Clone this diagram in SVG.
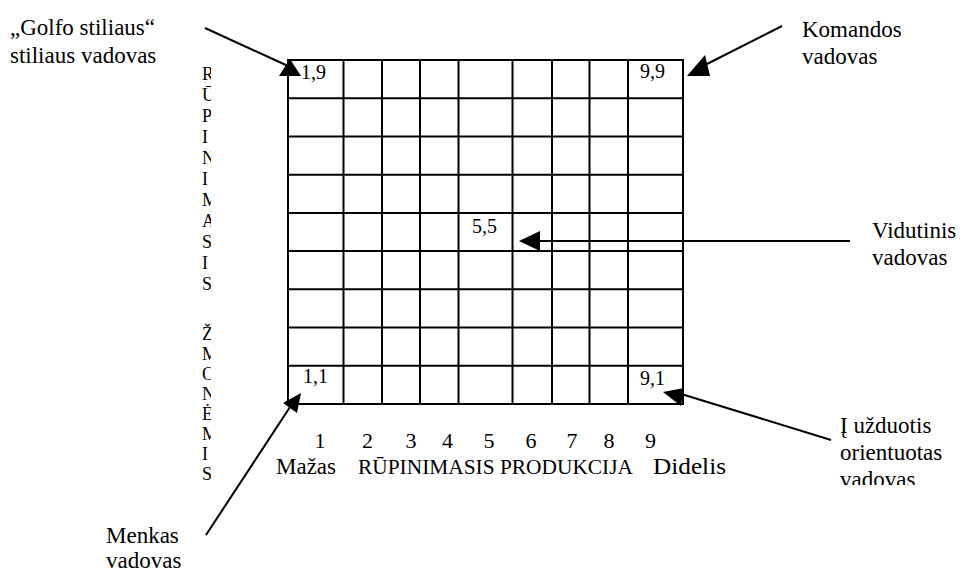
<svg xmlns="http://www.w3.org/2000/svg" width="963" height="572" viewBox="0 0 963 572">
<defs>
<style>
.lbl{font-size:23px}
.cell{font-size:20px}
.ax{font-size:22px}
.vt{font-size:18px}
.g{stroke:#000;stroke-width:2;fill:none}
.c{stroke:#000;stroke-width:2;fill:none}
.h{fill:#000;stroke:none}
</style>
<clipPath id="vclip"><rect x="195" y="55" width="16" height="440"/></clipPath>
<clipPath id="bclip"><rect x="830" y="400" width="133" height="85"/></clipPath>
</defs>
<rect width="963" height="572" fill="#fff"/>
<g font-family="'Liberation Serif', 'DejaVu Serif', serif" fill="#000">

<g id="grid">
<rect class="g" x="288" y="60" width="395" height="344"/>
<path class="g" d="M343.5 60V404M382 60V404M420 60V404M458.5 60V404M512.5 60V404M552 60V404M589.5 60V404M628 60V404"/>
<path class="g" d="M288 98.2H683M288 136.4H683M288 174.7H683M288 212.9H683M288 251.1H683M288 289.3H683M288 327.6H683M288 365.8H683"/>
<text class="cell" x="301" y="79">1,9</text>
<text class="cell" x="640" y="78">9,9</text>
<text class="cell" x="472" y="233">5,5</text>
<text class="cell" x="303" y="383">1,1</text>
<text class="cell" x="640" y="385">9,1</text>
</g>

<g id="y-axis" clip-path="url(#vclip)">
<text class="vt" x="202" y="80">R</text>
<text class="vt" x="202" y="101">Ū</text>
<text class="vt" x="202" y="122">P</text>
<text class="vt" x="202" y="143">I</text>
<text class="vt" x="202" y="164">N</text>
<text class="vt" x="202" y="185">I</text>
<text class="vt" x="202" y="206">M</text>
<text class="vt" x="202" y="227">A</text>
<text class="vt" x="202" y="248">S</text>
<text class="vt" x="202" y="269">I</text>
<text class="vt" x="202" y="290">S</text>
<text class="vt" x="202" y="340">Ž</text>
<text class="vt" x="202" y="360">M</text>
<text class="vt" x="202" y="380">O</text>
<text class="vt" x="202" y="400">N</text>
<text class="vt" x="202" y="420">Ė</text>
<text class="vt" x="202" y="440">M</text>
<text class="vt" x="202" y="460">I</text>
<text class="vt" x="202" y="480">S</text>
</g>

<g id="x-axis">
<g text-anchor="middle">
<text class="ax" x="320" y="448">1</text>
<text class="ax" x="367.5" y="448">2</text>
<text class="ax" x="411" y="448">3</text>
<text class="ax" x="447.5" y="448">4</text>
<text class="ax" x="489" y="448">5</text>
<text class="ax" x="531" y="448">6</text>
<text class="ax" x="572" y="448">7</text>
<text class="ax" x="609" y="448">8</text>
<text class="ax" x="650.5" y="448">9</text>
</g>
<text class="lbl" x="276" y="474" textLength="60" lengthAdjust="spacingAndGlyphs">Mažas</text>
<text class="ax" x="358" y="474" textLength="275" lengthAdjust="spacingAndGlyphs">RŪPINIMASIS PRODUKCIJA</text>
<text class="lbl" x="653" y="474" textLength="73" lengthAdjust="spacingAndGlyphs">Didelis</text>
</g>

<g id="golfo">
<text class="lbl" x="10" y="35">„Golfo stiliaus“</text>
<text class="lbl" x="10" y="63">stiliaus vadovas</text>
</g>
<g id="komandos">
<text class="lbl" x="802" y="37">Komandos</text>
<text class="lbl" x="802" y="64">vadovas</text>
</g>
<g id="vidutinis">
<text class="lbl" x="872" y="238">Vidutinis</text>
<text class="lbl" x="872" y="265">vadovas</text>
</g>
<g id="uzduotis" clip-path="url(#bclip)">
<text class="lbl" x="840" y="433">Į užduotis</text>
<text class="lbl" x="840" y="460">orientuotas</text>
<text class="lbl" x="840" y="487">vadovas</text>
</g>
<g id="menkas">
<text class="lbl" x="106" y="543">Menkas</text>
<text class="lbl" x="106" y="568">vadovas</text>
</g>
</g>

<g id="connectors">
<path class="c" d="M205 28L288 66"/>
<polygon class="h" points="279,76 290,59 301,76"/>
<path class="c" d="M782 26L703 66"/>
<polygon class="h" points="687,76 705,55 710,76"/>
<path class="c" d="M850 241H535"/>
<polygon class="h" points="519,241 540,231 540,251"/>
<path class="c" d="M831 440L678 393"/>
<polygon class="h" points="663,392 684,388 681,406"/>
<path class="c" d="M206 535L292 404"/>
<polygon class="h" points="301,393 283,403 297,413"/>
</g>
</svg>
